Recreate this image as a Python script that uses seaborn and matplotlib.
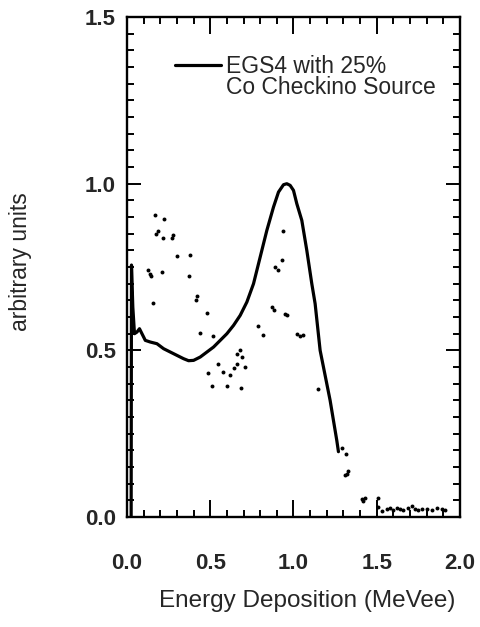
import matplotlib
matplotlib.use("Agg")
import matplotlib.pyplot as plt
from matplotlib.lines import Line2D
from matplotlib.ticker import MultipleLocator
import numpy as np
import pandas as pd
import seaborn as sns

# Simulated spectrum (EGS4, 25% Co check source)
sim_energy = [0.025, 0.027, 0.035, 0.045, 0.06, 0.075, 0.09, 0.11, 0.14, 0.18,
              0.22, 0.26, 0.30, 0.34, 0.37, 0.40, 0.44, 0.48, 0.52, 0.56,
              0.60, 0.64, 0.68, 0.72, 0.76, 0.80, 0.84, 0.88, 0.91, 0.94,
              0.96, 0.98, 1.00, 1.02, 1.05, 1.08, 1.11, 1.13, 1.16, 1.18,
              1.20, 1.22, 1.24, 1.26, 1.27]
sim_counts = [0.0, 0.756, 0.63, 0.55, 0.555, 0.565, 0.55, 0.53, 0.525, 0.52,
              0.505, 0.495, 0.485, 0.475, 0.469, 0.47, 0.48, 0.495, 0.51, 0.53,
              0.55, 0.575, 0.605, 0.645, 0.70, 0.78, 0.86, 0.93, 0.975, 0.997,
              1.0, 0.995, 0.98, 0.94, 0.89, 0.80, 0.70, 0.64, 0.50, 0.45,
              0.40, 0.35, 0.29, 0.23, 0.196]

# Measured spectrum points
meas_energy = [0.168, 0.224, 0.175, 0.185, 0.218, 0.268, 0.278, 0.30, 0.378, 0.128,
               0.144, 0.14, 0.208, 0.372, 0.158, 0.413, 0.423, 0.479, 0.438, 0.518,
               0.66, 0.68, 0.69, 0.548, 0.488, 0.578, 0.619, 0.64, 0.66, 0.709,
               0.509, 0.599, 0.683, 0.939, 0.933, 0.89, 0.905, 0.87, 0.88, 0.95,
               0.96, 0.789, 0.815, 1.02, 1.04, 1.06, 1.149, 1.29, 1.315, 1.31,
               1.32, 1.33, 1.41, 1.43, 1.42, 1.51, 1.51, 1.53, 1.56, 1.58,
               1.60, 1.62, 1.64, 1.66, 1.69, 1.71, 1.73, 1.75, 1.77, 1.80,
               1.83, 1.86, 1.89, 1.91]
meas_counts = [0.906, 0.894, 0.85, 0.857, 0.836, 0.836, 0.846, 0.784, 0.786, 0.741,
               0.723, 0.73, 0.736, 0.723, 0.643, 0.65, 0.664, 0.611, 0.551, 0.543,
               0.49, 0.50, 0.48, 0.459, 0.433, 0.436, 0.426, 0.446, 0.46, 0.451,
               0.393, 0.394, 0.386, 0.859, 0.771, 0.75, 0.74, 0.63, 0.62, 0.61,
               0.606, 0.574, 0.546, 0.548, 0.544, 0.546, 0.383, 0.207, 0.189, 0.125,
               0.13, 0.137, 0.054, 0.058, 0.048, 0.056, 0.03, 0.019, 0.023, 0.026,
               0.021, 0.026, 0.023, 0.021, 0.026, 0.033, 0.023, 0.021, 0.023, 0.023,
               0.021, 0.026, 0.023, 0.021]

x_ticks = [0.0, 0.5, 1.0, 1.5, 2.0]
y_ticks = [0.0, 0.5, 1.0, 1.5]

sim = pd.DataFrame({"energy": sim_energy, "counts": sim_counts})
meas = pd.DataFrame({"energy": meas_energy, "counts": meas_counts})

sns.set_theme(style="ticks")
plt.rcParams["font.family"] = ["Liberation Sans", "DejaVu Sans"]

fig = plt.figure(figsize=(4.81, 6.27), dpi=100)
ax = fig.add_axes([0.2640, 0.1754, 0.6923, 0.7974])

sns.lineplot(data=sim, x="energy", y="counts", ax=ax, color="black",
             linewidth=2.3, sort=False, estimator=None,
             label="EGS4 with 25%")
sns.scatterplot(data=meas, x="energy", y="counts", ax=ax, color="black",
                s=8, marker="o", linewidth=0, legend=False)

ax.set_xlim(0.0, 2.0)
ax.set_ylim(0.0, 1.5)
ax.set_xticks(x_ticks)
ax.set_yticks(y_ticks)
ax.set_xticklabels([f"{v:.1f}" for v in x_ticks])
ax.set_yticklabels([f"{v:.1f}" for v in y_ticks])
ax.xaxis.set_minor_locator(MultipleLocator(0.1))
ax.yaxis.set_minor_locator(MultipleLocator(0.05))

ax.tick_params(which="both", direction="in", top=True, right=True,
               color="black", width=1.4)
ax.tick_params(axis="x", which="major", length=12, pad=26, labelsize=16)
ax.tick_params(axis="x", which="minor", length=5)
ax.tick_params(axis="y", which="major", length=10, pad=8, labelsize=16)
ax.tick_params(axis="y", which="minor", length=5)
for lab in ax.get_xticklabels() + ax.get_yticklabels():
    lab.set_fontweight("bold")

for sp in ax.spines.values():
    sp.set_linewidth(1.7)
    sp.set_color("black")

ax.set_xlabel("Energy Deposition (MeVee)", fontsize=17.5)
ax.set_ylabel("arbitrary units", fontsize=16.5)
ax.xaxis.set_label_coords(0.54, -0.145)
ax.yaxis.set_label_coords(-0.285, 0.51)

handles, labels = ax.get_legend_handles_labels()
handles.append(Line2D([], [], linestyle="none"))
labels.append("Co Checkino Source")
ax.legend(handles, labels, loc="upper left", bbox_to_anchor=(0.145, 0.925),
          frameon=False, fontsize=16.5, handlelength=2.0, handletextpad=0.2,
          labelspacing=-0.05, borderpad=0, borderaxespad=0)

fig.savefig("out.png", dpi=100)
